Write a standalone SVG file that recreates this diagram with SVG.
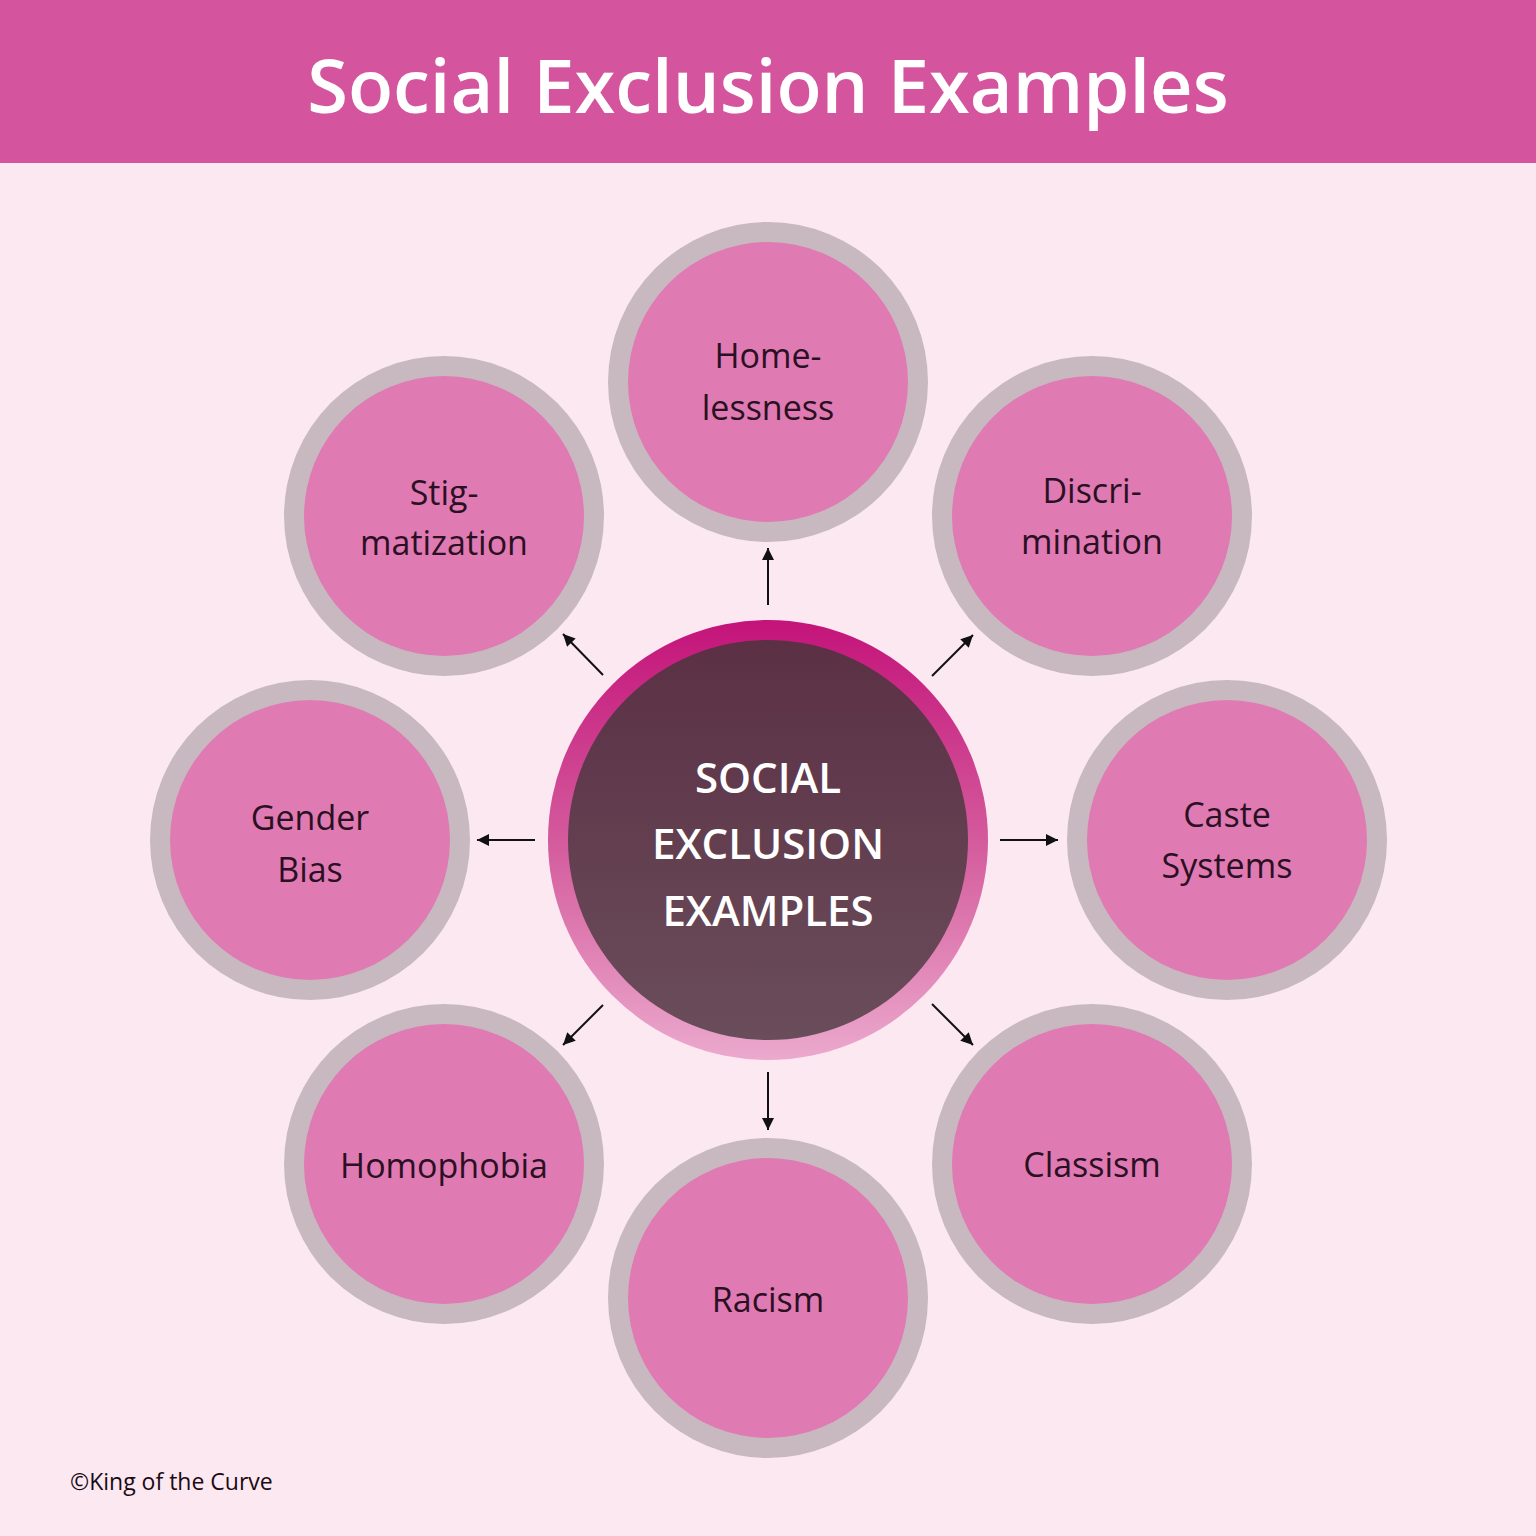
<svg xmlns="http://www.w3.org/2000/svg" width="1536" height="1536" viewBox="0 0 1536 1536">
<defs>
<linearGradient id="ringGrad" x1="0" y1="0" x2="0" y2="1">
<stop offset="0" stop-color="#C4137A"/>
<stop offset="0.5" stop-color="#D45A9C"/>
<stop offset="1" stop-color="#EBA9CD"/>
</linearGradient>
<linearGradient id="coreGrad" x1="0" y1="0" x2="0" y2="1">
<stop offset="0" stop-color="#5B3045"/>
<stop offset="1" stop-color="#6A4D5A"/>
</linearGradient>
<marker id="arrow" viewBox="0 0 10 10" refX="10" refY="5" markerWidth="6.5" markerHeight="6" orient="auto" markerUnits="strokeWidth">
<path d="M0,0 L10,5 L0,10 z" fill="#111"/>
</marker>
<style>
.ring{fill:#C8B9C0}
.disc{fill:#E07AB2}
.lbl{font-family:"Open Sans","Noto Sans",sans-serif;font-size:34px;font-weight:500;fill:#2A1022;text-anchor:middle}
.core{font-family:"Open Sans","Noto Sans",sans-serif;font-size:42px;font-weight:600;fill:#fff;text-anchor:middle}
.conn line{stroke:#111;stroke-width:2;marker-end:url(#arrow)}
</style>
</defs>
<rect width="1536" height="1536" fill="#FCE8F1"/>
<rect width="1536" height="163" fill="#D4559E"/>
<text x="768" y="113" font-family="'Open Sans','Noto Sans',sans-serif" font-size="74" font-weight="600" fill="#fff" text-anchor="middle">Social Exclusion Examples</text>

<g id="connectors" class="conn">
<line x1="768" y1="605" x2="768" y2="548"/>
<line x1="932" y1="676" x2="973" y2="635"/>
<line x1="1000" y1="840" x2="1058" y2="840"/>
<line x1="932" y1="1004" x2="973" y2="1045"/>
<line x1="768" y1="1072" x2="768" y2="1130"/>
<line x1="603" y1="1005" x2="563" y2="1045"/>
<line x1="535" y1="840" x2="477" y2="840"/>
<line x1="603" y1="675" x2="563" y2="634"/>
</g>

<g id="center">
<circle cx="768" cy="840" r="220" fill="url(#ringGrad)"/>
<circle cx="768" cy="840" r="200" fill="url(#coreGrad)"/>
<text class="core" x="768" y="793">SOCIAL</text>
<text class="core" x="768" y="859">EXCLUSION</text>
<text class="core" x="768" y="926">EXAMPLES</text>
</g>

<g id="homelessness">
<circle class="ring" cx="768" cy="382" r="160"/>
<circle class="disc" cx="768" cy="382" r="140"/>
<text class="lbl" x="768" y="368">Home-</text>
<text class="lbl" x="768" y="420">lessness</text>
</g>
<g id="discrimination">
<circle class="ring" cx="1092" cy="516" r="160"/>
<circle class="disc" cx="1092" cy="516" r="140"/>
<text class="lbl" x="1092" y="503">Discri-</text>
<text class="lbl" x="1092" y="554">mination</text>
</g>
<g id="caste-systems">
<circle class="ring" cx="1227" cy="840" r="160"/>
<circle class="disc" cx="1227" cy="840" r="140"/>
<text class="lbl" x="1227" y="827">Caste</text>
<text class="lbl" x="1227" y="878">Systems</text>
</g>
<g id="classism">
<circle class="ring" cx="1092" cy="1164" r="160"/>
<circle class="disc" cx="1092" cy="1164" r="140"/>
<text class="lbl" x="1092" y="1177">Classism</text>
</g>
<g id="racism">
<circle class="ring" cx="768" cy="1298" r="160"/>
<circle class="disc" cx="768" cy="1298" r="140"/>
<text class="lbl" x="768" y="1312">Racism</text>
</g>
<g id="homophobia">
<circle class="ring" cx="444" cy="1164" r="160"/>
<circle class="disc" cx="444" cy="1164" r="140"/>
<text class="lbl" x="444" y="1178">Homophobia</text>
</g>
<g id="gender-bias">
<circle class="ring" cx="310" cy="840" r="160"/>
<circle class="disc" cx="310" cy="840" r="140"/>
<text class="lbl" x="310" y="830">Gender</text>
<text class="lbl" x="310" y="882">Bias</text>
</g>
<g id="stigmatization">
<circle class="ring" cx="444" cy="516" r="160"/>
<circle class="disc" cx="444" cy="516" r="140"/>
<text class="lbl" x="444" y="505">Stig-</text>
<text class="lbl" x="444" y="555">matization</text>
</g>

<text x="70" y="1490" font-family="'Open Sans','Noto Sans',sans-serif" font-size="23" fill="#1A0A14">©King of the Curve</text>
</svg>
